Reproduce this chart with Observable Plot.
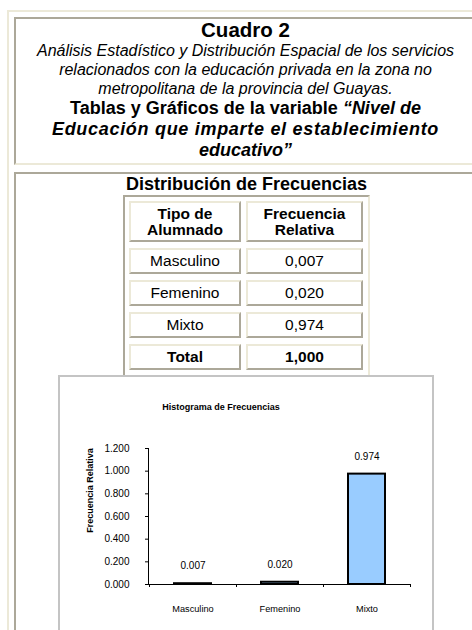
<!DOCTYPE html>
<html><head><meta charset="utf-8">
<script src="https://cdn.jsdelivr.net/npm/d3@7"></script>
<script src="https://cdn.jsdelivr.net/npm/@observablehq/plot@0.6"></script>
<style>
html,body{margin:0;padding:0;overflow:hidden;background:#fff;width:472px;height:630px;}
body{position:relative;font-family:"Liberation Sans",Arial,sans-serif;color:#000;}
.abs{position:absolute;box-sizing:border-box;}
#outer{left:7px;top:10px;width:600px;height:700px;border-left:2px solid #ECE9D8;border-top:2px solid #ECE9D8;}
#head{left:14px;top:17px;width:463px;height:148px;border:2px solid;border-color:#ACA899 #ECE9D8 #ECE9D8 #ACA899;text-align:center;white-space:nowrap;}
#head .t1{font:bold 20.5px/22px "Liberation Sans",Arial,sans-serif;}
#head .t2{font:italic 16px/19px "Liberation Sans",Arial,sans-serif;}
#head .t3{font:bold 18px/21px "Liberation Sans",Arial,sans-serif;}
#head .wide{letter-spacing:0.7px;}
#cell2{left:14px;top:172px;width:463px;height:600px;border-left:2px solid #ACA899;border-top:2px solid #ACA899;}
#ttl{left:46px;top:174px;width:401px;text-align:center;font:bold 18px/21px "Liberation Sans",Arial,sans-serif;white-space:nowrap;}
#tbl{left:123px;top:195px;border:2px solid;border-color:#ACA899 #ECE9D8 #ECE9D8 #ACA899;padding:4px 5px 6px 4px;display:grid;grid-template-columns:112px 117px;grid-template-rows:41px 26px 26px 26px 26px;column-gap:5px;row-gap:6px;}
#tbl .c{box-sizing:border-box;border:2px solid;border-color:#ECE9D8 #ACA899 #ACA899 #ECE9D8;display:flex;align-items:center;justify-content:center;text-align:center;font-size:15.5px;line-height:16px;}
#tbl .b{font-weight:bold;}
#chartbox{left:58px;top:375px;width:376px;height:300px;border:2px solid #C4C4C4;background:#fff;z-index:2;}
#chartbox svg{position:absolute;left:0;top:0;}
</style></head>
<body>
<div id="outer" class="abs"></div>
<div id="head" class="abs">
  <div class="t1">Cuadro 2</div>
  <div class="t2">Análisis Estadístico y Distribución Espacial de los servicios<br>relacionados con la educación privada en la zona no<br>metropolitana de la provincia del Guayas.</div>
  <div class="t3">Tablas y Gráficos de la variable <i>“Nivel de<br><span class="wide">Educación que imparte el establecimiento</span><br>educativo”</i></div>
</div>
<div id="cell2" class="abs"></div>
<div id="ttl" class="abs">Distribución de Frecuencias</div>
<div id="tbl" class="abs"></div>
<div id="chartbox" class="abs"></div>
<script>
// ---- data ----
const categories = ["Masculino", "Femenino", "Mixto"];
const frecuencias = [0.007, 0.020, 0.974];
const totalLabel = "Total";
const totalValue = 1.000;
const headerTipo = ["Tipo de", "Alumnado"];
const headerFrec = ["Frecuencia", "Relativa"];
const yTicks = [0, 0.2, 0.4, 0.6, 0.8, 1.0, 1.2];
const chartTitle = "Histograma de Frecuencias";
const yLabel = "Frecuencia Relativa";

// ---- table ----
const fmt = d3.format(".3f");
const fmtComma = v => fmt(v).replace(".", ",");
const tbl = d3.select("#tbl");
function cell(html, bold){ tbl.append("div").attr("class", "c" + (bold ? " b" : "")).html(html); }
cell(headerTipo.join("<br>"), true);
cell(headerFrec.join("<br>"), true);
categories.forEach((c, i) => { cell(c, false); cell(fmtComma(frecuencias[i]), false); });
cell(totalLabel, true);
cell(fmtComma(totalValue), true);

// ---- chart ----
const data = categories.map((c, i) => ({tipo: c, frec: frecuencias[i]}));
const axisLines = (index, scales, values, dimensions) => {
  const x = scales.x, y = scales.y;
  const g = d3.create("svg:g").attr("stroke", "#000").attr("fill", "none").attr("stroke-width", 1);
  const left = dimensions.marginLeft + 0.5;
  g.append("line").attr("x1", left).attr("x2", left)
    .attr("y1", y(yTicks[0])).attr("y2", y(yTicks[yTicks.length - 1]));
  const bw = typeof x.bandwidth === "function" ? x.bandwidth() : x.bandwidth;
  const step = x(categories[1]) - x(categories[0]);
  const gap = (step - bw) / 2;
  const bounds = categories.map(c => x(c) - gap);
  bounds.push(x(categories[categories.length - 1]) + bw + gap);
  const y0 = y(0);
  bounds.forEach(b => {
    g.append("line").attr("x1", Math.round(b) + 0.5).attr("x2", Math.round(b) + 0.5).attr("y1", y0).attr("y2", y0 + 3);
  });
  return g.node();
};

const chart = Plot.plot({
  width: 372, height: 260,
  marginLeft: 88, marginRight: 21, marginTop: 71, marginBottom: 53,
  style: {fontFamily: '"Liberation Sans", Arial, sans-serif', fontSize: "10px", color: "#000", background: "transparent", overflow: "visible"},
  x: {domain: categories, paddingInner: 0.58, paddingOuter: 0.29},
  y: {domain: [0, 1.2]},
  marks: [
    Plot.barY(data, {x: "tipo", y: "frec", fill: "#99CCFF", stroke: "#000", strokeWidth: 2}),
    Plot.ruleY([0], {stroke: "#000"}),
    axisLines,
    Plot.axisY({ticks: yTicks, tickSize: 3, tickPadding: 16, tickFormat: fmt, label: null, fontSize: 10}),
    Plot.axisX({tickSize: 0, tickPadding: 21, label: null, fontSize: 9.2}),
    Plot.text(data, {x: "tipo", y: "frec", text: d => fmt(d.frec), dy: -17.5, fontSize: 10, lineAnchor: "middle"}),
    Plot.text([chartTitle], {frameAnchor: "top-left", dx: 72.5, dy: -41, textAnchor: "middle", lineAnchor: "middle", fontWeight: "bold", fontSize: 9}),
    Plot.text([yLabel], {frameAnchor: "left", rotate: -90, dx: -58.7, dy: -26, textAnchor: "middle", lineAnchor: "middle", fontWeight: "bold", fontSize: 9})
  ]
});
document.getElementById("chartbox").appendChild(chart);
</script>
</body></html>
